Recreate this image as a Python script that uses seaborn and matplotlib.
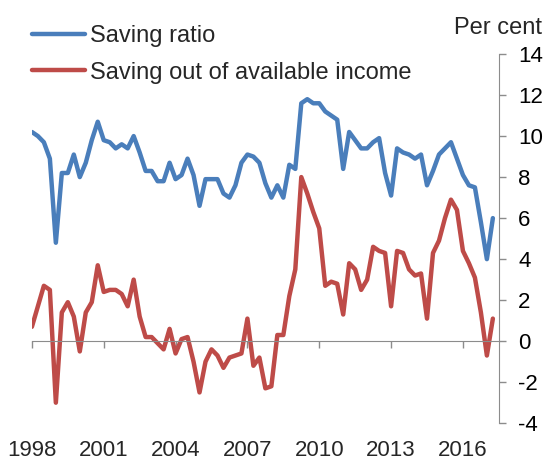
import numpy as np
import pandas as pd
import matplotlib
matplotlib.use("Agg")
import matplotlib.pyplot as plt
import seaborn as sns

# quarterly data, 1998 Q1 onwards
saving_ratio = [
    10.2, 10.0, 9.7, 8.9, 4.8, 8.2, 8.2, 9.1, 8.0, 8.7,
    9.8, 10.7, 9.8, 9.7, 9.4, 9.6, 9.4, 10.0, 9.2, 8.3,
    8.3, 7.8, 7.8, 8.7, 7.9, 8.1, 8.9, 8.1, 6.6, 7.9,
    7.9, 7.9, 7.2, 7.0, 7.6, 8.7, 9.1, 9.0, 8.7, 7.7,
    7.0, 7.6, 7.0, 8.6, 8.4, 11.6, 11.8, 11.6, 11.6, 11.2,
    11.0, 10.8, 8.4, 10.2, 9.8, 9.4, 9.4, 9.7, 9.9, 8.2,
    7.1, 9.4, 9.2, 9.1, 8.9, 9.1, 7.6, 8.3, 9.1, 9.4,
    9.7, 8.9, 8.1, 7.6, 7.5, 5.8, 4.0, 6.0,
]
saving_available = [
    0.7, 1.7, 2.7, 2.5, -3.0, 1.4, 1.9, 1.2, -0.5, 1.4,
    1.9, 3.7, 2.4, 2.5, 2.5, 2.3, 1.7, 3.0, 1.2, 0.2,
    0.2, -0.1, -0.4, 0.6, -0.6, 0.1, 0.2, -1.0, -2.5, -1.0,
    -0.4, -0.7, -1.3, -0.8, -0.7, -0.6, 1.1, -1.2, -0.8, -2.3,
    -2.2, 0.3, 0.3, 2.2, 3.5, 8.0, 7.2, 6.3, 5.5, 2.7,
    2.9, 2.8, 1.3, 3.8, 3.5, 2.5, 3.0, 4.6, 4.4, 4.3,
    1.7, 4.4, 4.3, 3.5, 3.2, 3.3, 1.1, 4.3, 4.9, 6.0,
    6.9, 6.4, 4.4, 3.8, 3.1, 1.4, -0.7, 1.1,
]
series_names = ["Saving ratio", "Saving out of available income"]
series_colors = ["#4A7EBB", "#BE4B48"]
year_ticks = [1998, 2001, 2004, 2007, 2010, 2013, 2016]
y_ticks = list(range(-4, 15, 2))

quarters = 1998 + np.arange(len(saving_ratio)) * 0.25
df = pd.concat([
    pd.DataFrame({"date": quarters, "value": saving_ratio, "series": series_names[0]}),
    pd.DataFrame({"date": quarters, "value": saving_available, "series": series_names[1]}),
])

sns.set_style("white")
plt.rcParams["font.family"] = ["Liberation Sans", "DejaVu Sans"]
plt.rcParams["axes.unicode_minus"] = False

grey = "#8c8c8c"
fig = plt.figure(figsize=(5.5, 4.62), dpi=100)
ax = fig.add_axes([0.058, 0.084, 0.849, 0.799])

sns.lineplot(data=df, x="date", y="value", hue="series",
             palette=dict(zip(series_names, series_colors)),
             linewidth=3.2, ax=ax)

ax.set_xlim(1998, 2017.5)
ax.set_ylim(-4, 14)
ax.set_xlabel("")
ax.set_ylabel("")

# y axis on the right
ax.yaxis.tick_right()
ax.set_yticks(y_ticks)
ax.tick_params(axis="y", direction="out", length=5, width=1, color=grey,
               pad=9, labelsize=16, labelcolor="black")
for s in ["left", "top"]:
    ax.spines[s].set_visible(False)
ax.spines["right"].set_color(grey)

# x axis line sits on zero, labels stay at the bottom
ax.spines["bottom"].set_position(("data", 0))
ax.spines["bottom"].set_color(grey)
ax.set_xticks(year_ticks)
ax.tick_params(axis="x", direction="out", length=5, width=1, color=grey,
               labelbottom=False, bottom=True)
sec = ax.secondary_xaxis("bottom")
sec.set_xticks(year_ticks, labels=[str(y) for y in year_ticks])
sec.spines["bottom"].set_visible(False)
sec.tick_params(length=0, pad=12, labelsize=16)

handles, labels = ax.get_legend_handles_labels()
ax.legend(handles, labels, loc="upper left", bbox_to_anchor=(0.058, 0.945),
          bbox_transform=fig.transFigure, frameon=False, fontsize=17,
          borderpad=0, borderaxespad=0, handlelength=2.25,
          handletextpad=0.2, labelspacing=0.6)

fig.text(0.986, 0.94, "Per cent", ha="right", va="center", fontsize=17)

fig.savefig("out.png", dpi=100)
